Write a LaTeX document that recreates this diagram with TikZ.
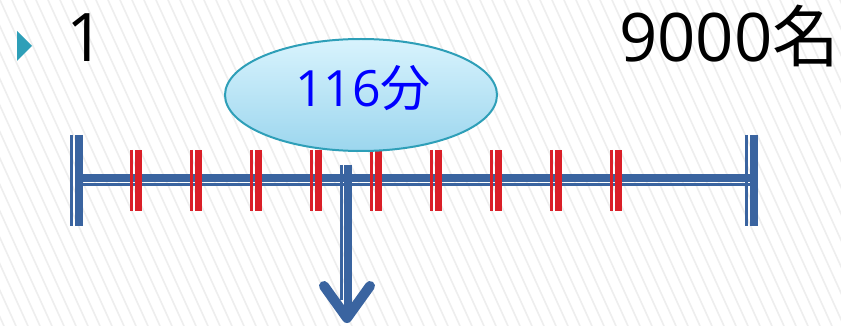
\documentclass[tikz,border=0pt]{standalone}
\usepackage{fontspec}
\setmainfont{Open Sans}
\newfontfamily\jpfont{Noto Sans CJK JP}
\usetikzlibrary{shapes.geometric}
\definecolor{barblue}{HTML}{3A64A0}
\definecolor{tickred}{HTML}{DA1F28}
\definecolor{teal}{HTML}{2E9FB8}
\definecolor{stripe}{HTML}{EEEEEE}
\definecolor{ellTop}{HTML}{D8F3FD}
\definecolor{ellBot}{HTML}{9CD6EE}
\tikzset{
  thickline/.style={barblue, line width=8pt},
  thinline/.style={barblue, line width=2.6pt},
  redthick/.style={tickred, line width=7pt},
  redthin/.style={tickred, line width=2.6pt},
  bigtext/.style={font=\fontsize{67}{70}\selectfont, inner sep=0pt, anchor=base west},
}
\begin{document}
\begin{tikzpicture}[x=1pt,y=-1pt]
\useasboundingbox (0,0) rectangle (841,326);
\fill[white] (0,0) rectangle (841,326);
% background stripes
\begin{scope}
\clip (0,0) rectangle (841,326);
\foreach \i in {-20,...,75} {
  \draw[stripe, line width=1.6pt] (\i*12,0) -- (\i*12+148,326);
}
\end{scope}
% bullet
\fill[teal] (17,31) -- (32,46) -- (17,61) -- cycle;
\node[bigtext] (one) at (66,62) {1};
\node[bigtext] (total) at (619,62) {9000{\jpfont 名}};
% posts
\draw[thinline] (71.5,135) -- (71.5,226);
\draw[thickline] (78.5,135) -- (78.5,226);
\draw[thinline] (746.5,135) -- (746.5,226);
\draw[thickline] (753.5,135) -- (753.5,226);
% bar
\draw[thickline] (80,178) -- (750,178);
\draw[thinline] (80,184.8) -- (750,184.8);
% arrow shaft
\draw[thinline] (341.3,165) -- (341.3,300);
\draw[thickline] (348,165) -- (348,318);
\draw[barblue, line width=10pt, line cap=round, line join=round] (324,286) -- (347,318) -- (370,286);
% red ticks
\foreach \x in {130,190,...,610} {
  \draw[redthin] (\x+1.3,150) -- (\x+1.3,211);
  \draw[redthick] (\x+8.5,150) -- (\x+8.5,211);
}
% ellipse
\node[ellipse, draw=teal, line width=2pt, top color=ellTop, bottom color=ellBot,
      minimum width=272pt, minimum height=112pt, inner sep=0pt] (ell) at (361,95) {};
\node[font=\fontsize{50}{54}\selectfont, text=blue, inner sep=0pt] (lbl) at (363,88) {116{\jpfont 分}};
\end{tikzpicture}
\end{document}
